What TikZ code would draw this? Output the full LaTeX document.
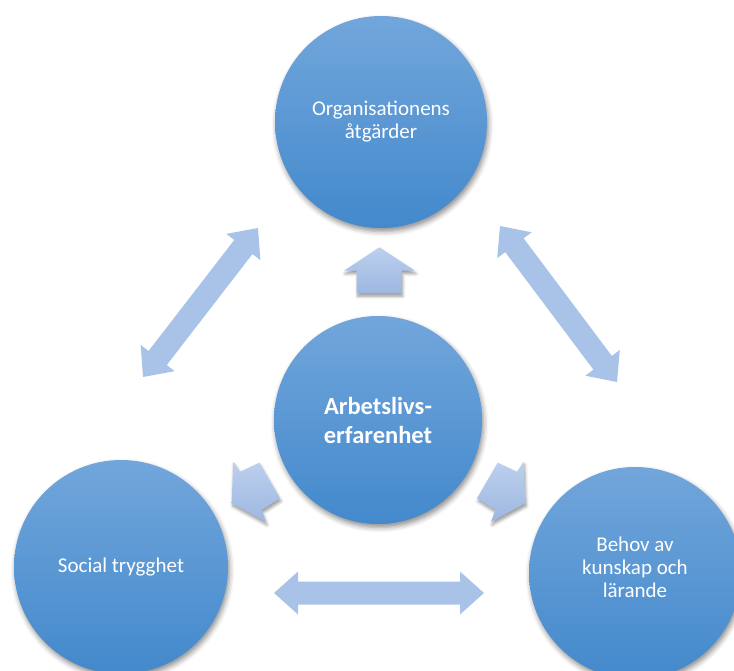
\documentclass[tikz,border=0pt]{standalone}
\usepackage{fontspec}
\setmainfont{Carlito}
\usetikzlibrary{calc,shadows.blur}

\definecolor{discTop}{RGB}{114,166,219}
\definecolor{discBot}{RGB}{67,137,204}
\definecolor{linkBlue}{RGB}{169,195,232}
\definecolor{pushTop}{RGB}{188,208,238}
\definecolor{pushBot}{RGB}{158,183,225}

% geometry of the two-headed block arrows
\newcommand\hdl{24pt}  % head length
\newcommand\hdw{21.5pt}% head half width
\newcommand\shw{11.5pt}% shaft half width

% two-headed block arrow between two named coordinates
\newcommand\linkarrow[2]{%
  \fill[linkfill] (#1)
    -- ($(#1)!\hdl!(#2)!\hdw!90:(#2)$)
    -- ($(#1)!\hdl!(#2)!\shw!90:(#2)$)
    -- ($(#2)!\hdl!(#1)!\shw!-90:(#1)$)
    -- ($(#2)!\hdl!(#1)!\hdw!-90:(#1)$)
    -- (#2)
    -- ($(#2)!\hdl!(#1)!\hdw!90:(#1)$)
    -- ($(#2)!\hdl!(#1)!\shw!90:(#1)$)
    -- ($(#1)!\hdl!(#2)!\shw!-90:(#2)$)
    -- ($(#1)!\hdl!(#2)!\hdw!-90:(#2)$)
    -- cycle;}

\tikzset{
  disc/.style={circle, inner sep=0pt, text=white, align=center,
    top color=discTop, bottom color=discBot, draw=none,
    blur shadow={shadow xshift=1.5pt, shadow yshift=-3.5pt,
      shadow blur radius=5pt, shadow opacity=45}},
  plain/.style={font=\fontsize{21}{23}\selectfont},
  strong/.style={font=\fontsize{24.5}{29}\selectfont\bfseries},
  caption/.style={plain, text=white, align=center, inner sep=0pt},
  linkfill/.style={fill=linkBlue},
  pushfill/.style={top color=pushTop, bottom color=pushBot, draw=none,
    blur shadow={shadow xshift=1pt, shadow yshift=-3pt,
      shadow blur radius=3pt, shadow opacity=40}},
}

\begin{document}
\begin{tikzpicture}[x=1pt,y=-1pt]
  \useasboundingbox (0,0) rectangle (734,670);

  % circles
  \node[disc, plain, minimum size=212pt] (org) at (381,122)
    {Organisationens\\åtgärder};
  \node[disc, strong, minimum size=208pt] (core) at (378,420)
    {Arbetslivs-\\erfarenhet};
  \node[disc, plain, minimum size=214pt] (soc) at (121,567)
    {Social trygghet};
  \node[disc, minimum size=212pt] (lrn) at (635,573) {};
  \node[caption] (lrnText) at (635,567) {Behov av\\kunskap och\\lärande};

  % end points of the two-headed links
  \coordinate (orgL) at (258,228);
  \coordinate (socT) at (143,377);
  \coordinate (orgR) at (500,226);
  \coordinate (lrnT) at (617,382);
  \coordinate (socR) at (274,593);
  \coordinate (lrnL) at (484,593);

  \linkarrow{orgL}{socT}
  \linkarrow{orgR}{lrnT}
  \linkarrow{socR}{lrnL}

  % outward arrows from the centre
  \path[pushfill] (379.3,247.3) -- (415,270.7) -- (401.7,270.7)
    -- (401.7,293.3) -- (356.7,293.3) -- (356.7,270.7) -- (344,270.7) -- cycle;
  \path[pushfill] (233.3,461.7) -- (240,471.7) -- (259.3,462.7)
    -- (280,498.3) -- (261.7,510) -- (266,522) -- (231.7,503.3) -- cycle;
  \path[pushfill] (523.7,461.7) -- (517,471.7) -- (497.7,462.7)
    -- (477,498.3) -- (495.3,510) -- (491,522) -- (525.3,503.3) -- cycle;
\end{tikzpicture}
\end{document}
